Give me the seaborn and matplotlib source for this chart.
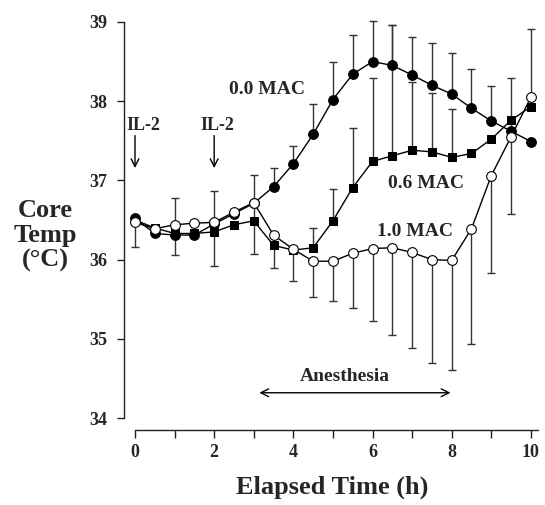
import numpy as np
import pandas as pd
import matplotlib
matplotlib.use("Agg")
import matplotlib.pyplot as plt
import seaborn as sns

# ── data ───────────────────────────────────────────────────────
hours = [0, 0.5, 1, 1.5, 2, 2.5, 3, 3.5, 4, 4.5, 5,
         5.5, 6, 6.5, 7, 7.5, 8, 8.5, 9, 9.5, 10]

mac_00 = [36.52, 36.33, 36.31, 36.31, 36.45, 36.58, 36.71, 36.92, 37.21, 37.58, 38.02,
          38.34, 38.50, 38.45, 38.33, 38.20, 38.09, 37.91, 37.75, 37.62, 37.49]
mac_06 = [36.50, 36.40, 36.33, 36.33, 36.35, 36.44, 36.49, 36.18, 36.12, 36.15, 36.49,
          36.91, 37.24, 37.31, 37.38, 37.36, 37.29, 37.34, 37.52, 37.76, 37.93]
mac_10 = [36.47, 36.39, 36.44, 36.46, 36.47, 36.60, 36.72, 36.31, 36.13, 35.98, 35.98,
          36.08, 36.14, 36.15, 36.09, 36.00, 35.99, 36.39, 37.06, 37.55, 38.05]

# error bar ends (upper for 0.0 / 0.6 MAC, mostly lower for 1.0 MAC)
bar00_hours = [3.5, 4, 4.5, 5, 5.5, 6, 6.5, 7, 7.5, 8, 8.5, 9, 9.5]
bar00_top   = [37.15, 37.43, 37.97, 38.49, 38.84, 39.01, 38.96, 38.81, 38.73, 38.61, 38.40, 38.19, 38.29]

bar06_hours = [4.5, 5, 5.5, 6, 6.5, 7, 7.5, 8]
bar06_top   = [36.40, 36.89, 37.66, 38.29, 38.96, 38.24, 38.10, 37.90]

bar10_low_hours = [0, 1, 2, 3, 3.5, 4, 4.5, 5, 5.5, 6, 6.5, 7, 7.5, 8, 8.5, 9, 9.5]
bar10_low       = [36.16, 36.06, 35.92, 36.07, 35.90, 35.73, 35.53, 35.48, 35.39, 35.23,
                   35.05, 34.89, 34.70, 34.61, 34.93, 35.83, 36.58]
bar10_top_hours = [1, 2, 3, 10]
bar10_top       = [36.78, 36.87, 37.07, 38.91]

df = pd.DataFrame({"hours": hours, "mac_00": mac_00, "mac_06": mac_06, "mac_10": mac_10})

sns.set_style("ticks")
plt.rcParams["font.family"] = ["Liberation Serif", "DejaVu Serif"]
plt.rcParams["font.weight"] = "bold"

fig = plt.figure(figsize=(5.45, 5.05), dpi=100)
ax = fig.add_axes([0.2275, 0.1485, 0.7633, 0.8317])

ECOL = "#333333"


def draw_bars(bar_t, bar_end, series, upward=True):
    idx = [hours.index(t) for t in bar_t]
    y = np.array([series[i] for i in idx])
    end = np.array(bar_end)
    if upward:
        yerr = [np.zeros_like(y), end - y]
    else:
        yerr = [y - end, np.zeros_like(y)]
    ax.errorbar(bar_t, y, yerr=yerr, fmt="none", ecolor=ECOL,
                elinewidth=1.0, capsize=3, capthick=1.0, zorder=2)


draw_bars(bar00_hours, bar00_top, mac_00)
draw_bars(bar06_hours, bar06_top, mac_06)
draw_bars(bar10_low_hours, bar10_low, mac_10, upward=False)
draw_bars(bar10_top_hours, bar10_top, mac_10)

sns.lineplot(data=df, x="hours", y="mac_06", ax=ax, estimator=None, sort=False,
             color="black", lw=1.0, marker="s", markersize=6,
             markerfacecolor="black", markeredgecolor="black", zorder=3)
sns.lineplot(data=df, x="hours", y="mac_00", ax=ax, estimator=None, sort=False,
             color="black", lw=1.0, marker="o", markersize=7,
             markerfacecolor="black", markeredgecolor="black", zorder=4)
sns.lineplot(data=df, x="hours", y="mac_10", ax=ax, estimator=None, sort=False,
             color="black", lw=1.0, marker="o", markersize=7,
             markerfacecolor="white", markeredgecolor="black",
             markeredgewidth=0.8, zorder=5)

# ── annotations ────────────────────────────────────────────────
ax.text(3.33, 38.09, "0.0 MAC", ha="center", va="baseline", fontsize=14, fontweight="bold")
ax.text(7.36, 36.90, "0.6 MAC", ha="center", va="baseline", fontsize=14, fontweight="bold")
ax.text(7.07, 36.30, "1.0 MAC", ha="center", va="baseline", fontsize=14, fontweight="bold")

for t_il, t_lab in [(0, 0.21), (2, 2.08)]:
    ax.text(t_lab, 37.64, "IL-2", ha="center", va="baseline", fontsize=13,
            fontweight="bold")
    ax.annotate("", xy=(t_il, 37.12), xytext=(t_il, 37.60),
                arrowprops=dict(arrowstyle="->", color="black", lw=1.0,
                                mutation_scale=14))

ax.text(5.30, 34.47, "Anesthesia", ha="center", va="baseline", fontsize=14, fontweight="bold")
ax.annotate("", xy=(3.07, 34.32), xytext=(8.04, 34.32),
            arrowprops=dict(arrowstyle="<->", color="black", lw=1.0,
                            mutation_scale=14))

# ── axes ───────────────────────────────────────────────────────
ax.set_xlim(-0.278, 10.23)
ax.set_ylim(33.85, 39.15)
ax.set_xticks([0, 2, 4, 6, 8, 10])
ax.set_xticks([1, 3, 5, 7, 9], minor=True)
ax.set_yticks([34, 35, 36, 37, 38, 39])
ax.spines[["top", "right"]].set_visible(False)
ax.spines["left"].set_bounds(34, 39)
ax.spines["bottom"].set_bounds(0, 10.18)
for s in ["left", "bottom"]:
    ax.spines[s].set_linewidth(1.0)
    ax.spines[s].set_color("#222222")
ax.tick_params(axis="x", which="both", length=6, width=1.0, pad=4,
               labelsize=13, color="#222222")
ax.tick_params(axis="y", length=5, width=1.0, pad=7, labelsize=13, color="#222222")
for lab in ax.get_xticklabels() + ax.get_yticklabels():
    lab.set_fontweight("bold")

ax.set_xlabel("Elapsed Time (h)", fontsize=19, fontweight="bold")
ax.xaxis.set_label_coords(0.5, -0.136)
ax.xaxis.label.set_va("center")
ax.set_ylabel("Core\nTemp\n(°C)", fontsize=19, fontweight="bold",
              rotation=0, linespacing=1.1, ha="center", va="center")
ax.yaxis.set_label_coords(-0.19, 0.462)

fig.savefig("out.png", dpi=100)
plt.close(fig)
